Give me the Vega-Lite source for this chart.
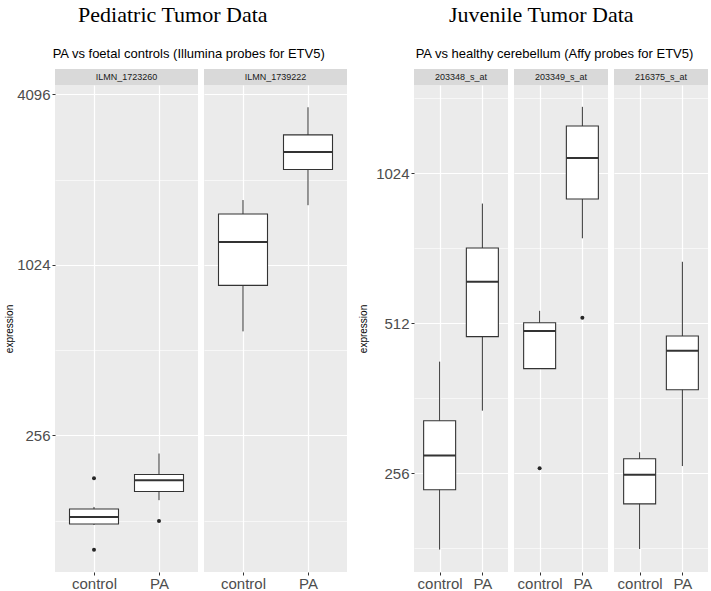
{
  "$schema": "https://vega.github.io/schema/vega-lite/v6.json",
  "background": "white",
  "padding": {"left": 4, "top": 4, "right": 0, "bottom": 0},
  "datasets": {
    "stats": [
      {"probe": "ILMN_1723260", "group": "control", "lower": 123.4, "q1": 124.4, "median": 131.6, "q3": 140.5, "upper": 142.9},
      {"probe": "ILMN_1723260", "group": "PA", "lower": 151, "q1": 162, "median": 177.6, "q3": 186, "upper": 220.7},
      {"probe": "ILMN_1739222", "group": "control", "lower": 596, "q1": 866, "median": 1234, "q3": 1548, "upper": 1734},
      {"probe": "ILMN_1739222", "group": "PA", "lower": 1663, "q1": 2224, "median": 2561, "q3": 2945, "upper": 3688},
      {"probe": "203348_s_at", "group": "control", "lower": 179.7, "q1": 237, "median": 277.5, "q3": 326, "upper": 428.5},
      {"probe": "203348_s_at", "group": "PA", "lower": 341.6, "q1": 481, "median": 620, "q3": 724.6, "upper": 890},
      {"probe": "203349_s_at", "group": "control", "lower": 414.8, "q1": 414.8, "median": 494, "q3": 513, "upper": 542},
      {"probe": "203349_s_at", "group": "PA", "lower": 758, "q1": 909, "median": 1099, "q3": 1274, "upper": 1392},
      {"probe": "216375_s_at", "group": "control", "lower": 180.2, "q1": 222, "median": 253.9, "q3": 273.4, "upper": 281.8},
      {"probe": "216375_s_at", "group": "PA", "lower": 264.4, "q1": 376.3, "median": 450.5, "q3": 482.6, "upper": 680}
    ],
    "outliers": [
      {"probe": "ILMN_1723260", "group": "control", "value": 180.4},
      {"probe": "ILMN_1723260", "group": "control", "value": 100.8},
      {"probe": "ILMN_1723260", "group": "PA", "value": 127.5},
      {"probe": "203349_s_at", "group": "control", "value": 261.8},
      {"probe": "203349_s_at", "group": "PA", "value": 525}
    ]
  },
  "spacing": 11,
  "hconcat": [
    {
      "title": {"text": "Pediatric Tumor Data", "font": "Liberation Serif", "fontSize": 22, "fontWeight": "normal", "color": "#000000", "anchor": "middle", "frame": "bounds", "offset": 21, "dx": -3},
      "vconcat": [
        {
          "title": {"text": "PA vs foetal controls (Illumina probes for ETV5)", "font": "Liberation Sans", "fontSize": 13, "fontWeight": "normal", "color": "#000000", "anchor": "start", "offset": 8, "dx": 48},
          "spacing": 6,
          "hconcat": [
            {
              "spacing": 0,
              "vconcat": [
                {
                  "width": 143, "height": 16,
                  "view": {"fill": "#d9d9d9", "stroke": null},
                  "data": {"name": "stats"},
                  "transform": [{"filter": "datum.probe == 'ILMN_1723260' && datum.group == 'control'"}],
                  "mark": {"type": "text", "fontSize": 9, "color": "#1a1a1a", "font": "Liberation Sans"},
                  "encoding": {"text": {"field": "probe"}}
                },
                {
                  "width": 143, "height": 487,
                  "view": {"fill": "#ebebeb", "stroke": null},
                  "encoding": {
                    "x": {"field": "group", "type": "nominal", "scale": {"type": "point", "padding": 0.6, "domain": ["control", "PA"]},
                      "axis": {"title": null, "labelAngle": 0, "labelFontSize": 15, "labelColor": "#4d4d4d", "labelPadding": 1, "tickSize": 3, "tickColor": "#333333", "grid": true, "gridColor": "#ffffff", "gridWidth": 1.2, "domain": false}}
                  },
                  "layer": [
                    {
                      "data": {"name": "stats"},
                      "transform": [{"filter": "datum.probe == 'ILMN_1723260'"}],
                      "mark": {"type": "rule", "color": "#333333", "strokeWidth": 1},
                      "encoding": {
                        "y": {"field": "lower", "type": "quantitative",
                          "scale": {"type": "log", "base": 2, "domain": [84.2, 4420], "nice": false},
                          "axis": {"title": "expression", "titleFontSize": 10, "titleFontWeight": "normal", "titleColor": "#000000", "titlePadding": 2,
                            "values": [128, 256, 512, 1024, 2048, 4096],
                            "labelExpr": "(datum.value == 256 || datum.value == 1024 || datum.value == 4096) ? format(datum.value, 'd') : ''",
                            "labelFontSize": 15, "labelColor": "#4d4d4d", "labelPadding": 2, "tickSize": 3,
                            "tickColor": {"condition": {"test": "datum.value == 256 || datum.value == 1024 || datum.value == 4096", "value": "#333333"}, "value": "transparent"},
                            "grid": true, "gridColor": "#ffffff",
                            "gridWidth": {"condition": {"test": "datum.value == 256 || datum.value == 1024 || datum.value == 4096", "value": 1.2}, "value": 0.6},
                            "domain": false}},
                        "y2": {"field": "upper"}
                      }
                    },
                    {
                      "data": {"name": "stats"},
                      "transform": [{"filter": "datum.probe == 'ILMN_1723260'"}],
                      "mark": {"type": "bar", "fill": "#ffffff", "stroke": "#333333", "strokeWidth": 1.1, "size": 49},
                      "encoding": {"y": {"field": "q1", "type": "quantitative"}, "y2": {"field": "q3"}}
                    },
                    {
                      "data": {"name": "stats"},
                      "transform": [{"filter": "datum.probe == 'ILMN_1723260'"}],
                      "mark": {"type": "tick", "color": "#333333", "thickness": 2, "size": 49, "opacity": 1},
                      "encoding": {"y": {"field": "median", "type": "quantitative"}}
                    },
                    {
                      "data": {"name": "outliers"},
                      "transform": [{"filter": "datum.probe == 'ILMN_1723260'"}],
                      "mark": {"type": "circle", "color": "#262626", "size": 16, "opacity": 1},
                      "encoding": {"y": {"field": "value", "type": "quantitative"}}
                    }
                  ]
                }
              ]
            },
            {
              "spacing": 0,
              "vconcat": [
                {
                  "width": 143, "height": 16,
                  "view": {"fill": "#d9d9d9", "stroke": null},
                  "data": {"name": "stats"},
                  "transform": [{"filter": "datum.probe == 'ILMN_1739222' && datum.group == 'control'"}],
                  "mark": {"type": "text", "fontSize": 9, "color": "#1a1a1a", "font": "Liberation Sans"},
                  "encoding": {"text": {"field": "probe"}}
                },
                {
                  "width": 143, "height": 487,
                  "view": {"fill": "#ebebeb", "stroke": null},
                  "encoding": {
                    "x": {"field": "group", "type": "nominal", "scale": {"type": "point", "padding": 0.6, "domain": ["control", "PA"]},
                      "axis": {"title": null, "labelAngle": 0, "labelFontSize": 15, "labelColor": "#4d4d4d", "labelPadding": 1, "tickSize": 3, "tickColor": "#333333", "grid": true, "gridColor": "#ffffff", "gridWidth": 1.2, "domain": false}}
                  },
                  "layer": [
                    {
                      "data": {"name": "stats"},
                      "transform": [{"filter": "datum.probe == 'ILMN_1739222'"}],
                      "mark": {"type": "rule", "color": "#333333", "strokeWidth": 1},
                      "encoding": {
                        "y": {"field": "lower", "type": "quantitative",
                          "scale": {"type": "log", "base": 2, "domain": [84.2, 4420], "nice": false},
                          "axis": {"title": null, "labels": false, "ticks": false,
                            "values": [128, 256, 512, 1024, 2048, 4096],
                            "grid": true, "gridColor": "#ffffff",
                            "gridWidth": {"condition": {"test": "datum.value == 256 || datum.value == 1024 || datum.value == 4096", "value": 1.2}, "value": 0.6},
                            "domain": false}},
                        "y2": {"field": "upper"}
                      }
                    },
                    {
                      "data": {"name": "stats"},
                      "transform": [{"filter": "datum.probe == 'ILMN_1739222'"}],
                      "mark": {"type": "bar", "fill": "#ffffff", "stroke": "#333333", "strokeWidth": 1.1, "size": 49},
                      "encoding": {"y": {"field": "q1", "type": "quantitative"}, "y2": {"field": "q3"}}
                    },
                    {
                      "data": {"name": "stats"},
                      "transform": [{"filter": "datum.probe == 'ILMN_1739222'"}],
                      "mark": {"type": "tick", "color": "#333333", "thickness": 2, "size": 49, "opacity": 1},
                      "encoding": {"y": {"field": "median", "type": "quantitative"}}
                    },
                    {
                      "data": {"name": "outliers"},
                      "transform": [{"filter": "datum.probe == 'ILMN_1739222'"}],
                      "mark": {"type": "circle", "color": "#262626", "size": 16, "opacity": 1},
                      "encoding": {"y": {"field": "value", "type": "quantitative"}}
                    }
                  ]
                }
              ]
            }
          ]
        }
      ]
    },
    {
      "title": {"text": "Juvenile Tumor Data", "font": "Liberation Serif", "fontSize": 22, "fontWeight": "normal", "color": "#000000", "anchor": "middle", "frame": "bounds", "offset": 21, "dx": 8},
      "vconcat": [
        {
          "title": {"text": "PA vs healthy cerebellum (Affy probes for ETV5)", "font": "Liberation Sans", "fontSize": 13, "fontWeight": "normal", "color": "#000000", "anchor": "start", "offset": 8, "dx": 57},
          "spacing": 6,
          "hconcat": [
            {
              "spacing": 0,
              "vconcat": [
                {
                  "width": 94, "height": 16,
                  "view": {"fill": "#d9d9d9", "stroke": null},
                  "data": {"name": "stats"},
                  "transform": [{"filter": "datum.probe == '203348_s_at' && datum.group == 'control'"}],
                  "mark": {"type": "text", "fontSize": 9, "color": "#1a1a1a", "font": "Liberation Sans"},
                  "encoding": {"text": {"field": "probe"}}
                },
                {
                  "width": 94, "height": 487,
                  "view": {"fill": "#ebebeb", "stroke": null},
                  "encoding": {
                    "x": {"field": "group", "type": "nominal", "scale": {"type": "point", "padding": 0.6, "domain": ["control", "PA"]},
                      "axis": {"title": null, "labelAngle": 0, "labelFontSize": 15, "labelColor": "#4d4d4d", "labelPadding": 1, "tickSize": 3, "tickColor": "#333333", "grid": true, "gridColor": "#ffffff", "gridWidth": 1.2, "domain": false}}
                  },
                  "layer": [
                    {
                      "data": {"name": "stats"},
                      "transform": [{"filter": "datum.probe == '203348_s_at'"}],
                      "mark": {"type": "rule", "color": "#333333", "strokeWidth": 1},
                      "encoding": {
                        "y": {"field": "lower", "type": "quantitative",
                          "scale": {"type": "log", "base": 2, "domain": [162, 1540], "nice": false},
                          "axis": {"title": "expression", "titleFontSize": 10, "titleFontWeight": "normal", "titleColor": "#000000", "titlePadding": 7,
                            "values": [181.02, 256, 362.04, 512, 724.08, 1024, 1448.15],
                            "labelExpr": "(datum.value == 256 || datum.value == 512 || datum.value == 1024) ? format(datum.value, 'd') : ''",
                            "labelFontSize": 15, "labelColor": "#4d4d4d", "labelPadding": 2, "tickSize": 3,
                            "tickColor": {"condition": {"test": "datum.value == 256 || datum.value == 512 || datum.value == 1024", "value": "#333333"}, "value": "transparent"},
                            "grid": true, "gridColor": "#ffffff",
                            "gridWidth": {"condition": {"test": "datum.value == 256 || datum.value == 512 || datum.value == 1024", "value": 1.2}, "value": 0.6},
                            "domain": false}},
                        "y2": {"field": "upper"}
                      }
                    },
                    {
                      "data": {"name": "stats"},
                      "transform": [{"filter": "datum.probe == '203348_s_at'"}],
                      "mark": {"type": "bar", "fill": "#ffffff", "stroke": "#333333", "strokeWidth": 1.1, "size": 32},
                      "encoding": {"y": {"field": "q1", "type": "quantitative"}, "y2": {"field": "q3"}}
                    },
                    {
                      "data": {"name": "stats"},
                      "transform": [{"filter": "datum.probe == '203348_s_at'"}],
                      "mark": {"type": "tick", "color": "#333333", "thickness": 2, "size": 32, "opacity": 1},
                      "encoding": {"y": {"field": "median", "type": "quantitative"}}
                    },
                    {
                      "data": {"name": "outliers"},
                      "transform": [{"filter": "datum.probe == '203348_s_at'"}],
                      "mark": {"type": "circle", "color": "#262626", "size": 16, "opacity": 1},
                      "encoding": {"y": {"field": "value", "type": "quantitative"}}
                    }
                  ]
                }
              ]
            },
            {
              "spacing": 0,
              "vconcat": [
                {
                  "width": 94, "height": 16,
                  "view": {"fill": "#d9d9d9", "stroke": null},
                  "data": {"name": "stats"},
                  "transform": [{"filter": "datum.probe == '203349_s_at' && datum.group == 'control'"}],
                  "mark": {"type": "text", "fontSize": 9, "color": "#1a1a1a", "font": "Liberation Sans"},
                  "encoding": {"text": {"field": "probe"}}
                },
                {
                  "width": 94, "height": 487,
                  "view": {"fill": "#ebebeb", "stroke": null},
                  "encoding": {
                    "x": {"field": "group", "type": "nominal", "scale": {"type": "point", "padding": 0.6, "domain": ["control", "PA"]},
                      "axis": {"title": null, "labelAngle": 0, "labelFontSize": 15, "labelColor": "#4d4d4d", "labelPadding": 1, "tickSize": 3, "tickColor": "#333333", "grid": true, "gridColor": "#ffffff", "gridWidth": 1.2, "domain": false}}
                  },
                  "layer": [
                    {
                      "data": {"name": "stats"},
                      "transform": [{"filter": "datum.probe == '203349_s_at'"}],
                      "mark": {"type": "rule", "color": "#333333", "strokeWidth": 1},
                      "encoding": {
                        "y": {"field": "lower", "type": "quantitative",
                          "scale": {"type": "log", "base": 2, "domain": [162, 1540], "nice": false},
                          "axis": {"title": null, "labels": false, "ticks": false,
                            "values": [181.02, 256, 362.04, 512, 724.08, 1024, 1448.15],
                            "grid": true, "gridColor": "#ffffff",
                            "gridWidth": {"condition": {"test": "datum.value == 256 || datum.value == 512 || datum.value == 1024", "value": 1.2}, "value": 0.6},
                            "domain": false}},
                        "y2": {"field": "upper"}
                      }
                    },
                    {
                      "data": {"name": "stats"},
                      "transform": [{"filter": "datum.probe == '203349_s_at'"}],
                      "mark": {"type": "bar", "fill": "#ffffff", "stroke": "#333333", "strokeWidth": 1.1, "size": 32},
                      "encoding": {"y": {"field": "q1", "type": "quantitative"}, "y2": {"field": "q3"}}
                    },
                    {
                      "data": {"name": "stats"},
                      "transform": [{"filter": "datum.probe == '203349_s_at'"}],
                      "mark": {"type": "tick", "color": "#333333", "thickness": 2, "size": 32, "opacity": 1},
                      "encoding": {"y": {"field": "median", "type": "quantitative"}}
                    },
                    {
                      "data": {"name": "outliers"},
                      "transform": [{"filter": "datum.probe == '203349_s_at'"}],
                      "mark": {"type": "circle", "color": "#262626", "size": 16, "opacity": 1},
                      "encoding": {"y": {"field": "value", "type": "quantitative"}}
                    }
                  ]
                }
              ]
            },
            {
              "spacing": 0,
              "vconcat": [
                {
                  "width": 94, "height": 16,
                  "view": {"fill": "#d9d9d9", "stroke": null},
                  "data": {"name": "stats"},
                  "transform": [{"filter": "datum.probe == '216375_s_at' && datum.group == 'control'"}],
                  "mark": {"type": "text", "fontSize": 9, "color": "#1a1a1a", "font": "Liberation Sans"},
                  "encoding": {"text": {"field": "probe"}}
                },
                {
                  "width": 94, "height": 487,
                  "view": {"fill": "#ebebeb", "stroke": null},
                  "encoding": {
                    "x": {"field": "group", "type": "nominal", "scale": {"type": "point", "padding": 0.6, "domain": ["control", "PA"]},
                      "axis": {"title": null, "labelAngle": 0, "labelFontSize": 15, "labelColor": "#4d4d4d", "labelPadding": 1, "tickSize": 3, "tickColor": "#333333", "grid": true, "gridColor": "#ffffff", "gridWidth": 1.2, "domain": false}}
                  },
                  "layer": [
                    {
                      "data": {"name": "stats"},
                      "transform": [{"filter": "datum.probe == '216375_s_at'"}],
                      "mark": {"type": "rule", "color": "#333333", "strokeWidth": 1},
                      "encoding": {
                        "y": {"field": "lower", "type": "quantitative",
                          "scale": {"type": "log", "base": 2, "domain": [162, 1540], "nice": false},
                          "axis": {"title": null, "labels": false, "ticks": false,
                            "values": [181.02, 256, 362.04, 512, 724.08, 1024, 1448.15],
                            "grid": true, "gridColor": "#ffffff",
                            "gridWidth": {"condition": {"test": "datum.value == 256 || datum.value == 512 || datum.value == 1024", "value": 1.2}, "value": 0.6},
                            "domain": false}},
                        "y2": {"field": "upper"}
                      }
                    },
                    {
                      "data": {"name": "stats"},
                      "transform": [{"filter": "datum.probe == '216375_s_at'"}],
                      "mark": {"type": "bar", "fill": "#ffffff", "stroke": "#333333", "strokeWidth": 1.1, "size": 32},
                      "encoding": {"y": {"field": "q1", "type": "quantitative"}, "y2": {"field": "q3"}}
                    },
                    {
                      "data": {"name": "stats"},
                      "transform": [{"filter": "datum.probe == '216375_s_at'"}],
                      "mark": {"type": "tick", "color": "#333333", "thickness": 2, "size": 32, "opacity": 1},
                      "encoding": {"y": {"field": "median", "type": "quantitative"}}
                    },
                    {
                      "data": {"name": "outliers"},
                      "transform": [{"filter": "datum.probe == '216375_s_at'"}],
                      "mark": {"type": "circle", "color": "#262626", "size": 16, "opacity": 1},
                      "encoding": {"y": {"field": "value", "type": "quantitative"}}
                    }
                  ]
                }
              ]
            }
          ]
        }
      ]
    }
  ],
  "config": {
    "view": {"stroke": null},
    "font": "Liberation Sans",
    "axis": {"labelFont": "Liberation Sans", "titleFont": "Liberation Sans"}
  }
}
